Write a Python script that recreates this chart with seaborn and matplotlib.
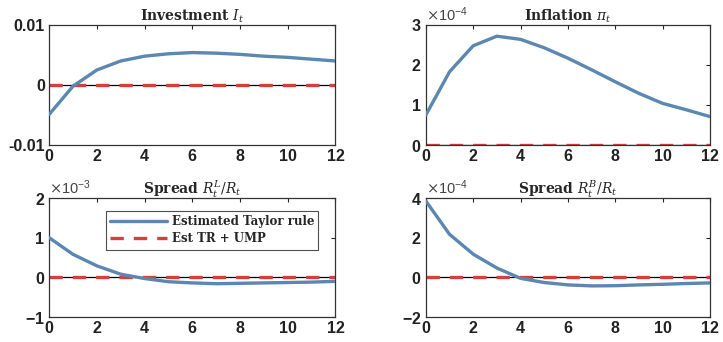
"""
Impulse responses: estimated Taylor rule vs. Taylor rule + UMP
"""
import numpy as np
import pandas as pd
import matplotlib
matplotlib.use("Agg")
import matplotlib.pyplot as plt
import seaborn as sns

# Data
horizon = list(range(13))

investment_tr = [-0.0049, -0.0002, 0.0025, 0.0040, 0.0048, 0.0052, 0.0054,
                 0.0053, 0.0051, 0.0048, 0.0046, 0.0043, 0.0040]
investment_ump = [0.0] * 13

inflation_tr = [0.75e-4, 1.83e-4, 2.48e-4, 2.72e-4, 2.64e-4, 2.43e-4, 2.17e-4,
                1.88e-4, 1.58e-4, 1.29e-4, 1.04e-4, 0.88e-4, 0.71e-4]
inflation_ump = [0.0] * 13

spread_l_tr = [1.0e-3, 0.58e-3, 0.29e-3, 0.08e-3, -0.03e-3, -0.11e-3, -0.14e-3,
               -0.16e-3, -0.15e-3, -0.14e-3, -0.13e-3, -0.12e-3, -0.10e-3]
spread_l_ump = [0.0] * 13

spread_b_tr = [3.85e-4, 2.17e-4, 1.17e-4, 0.47e-4, -0.05e-4, -0.26e-4, -0.38e-4,
               -0.43e-4, -0.42e-4, -0.38e-4, -0.35e-4, -0.31e-4, -0.28e-4]
spread_b_ump = [0.0] * 13

series_names = ["Estimated Taylor rule", "Est TR + UMP"]
titles = [r"Investment $I_t$", r"Inflation $\pi_t$",
          r"Spread $R^L_t/R_t$", r"Spread $R^B_t/R_t$"]
ylims = [(-0.01, 0.01), (0, 3e-4), (-1e-3, 2e-3), (-2e-4, 4e-4)]
yticks = [[-0.01, 0, 0.01], [0, 1e-4, 2e-4, 3e-4],
          [-1e-3, 0, 1e-3, 2e-3], [-2e-4, 0, 2e-4, 4e-4]]
use_sci = [False, True, True, True]

BLUE = "#5b87b2"
RED = "#d2413c"

sns.set_style("white")
plt.rcParams["font.family"] = ["Liberation Sans", "DejaVu Sans"]
plt.rcParams["mathtext.fontset"] = "dejavuserif"
plt.rcParams["axes.unicode_minus"] = False

fig = plt.figure(figsize=(7.23, 3.42), dpi=100)
positions = [
    [0.068, 0.576, 0.396, 0.351],
    [0.589, 0.576, 0.393, 0.351],
    [0.068, 0.073, 0.396, 0.348],
    [0.589, 0.073, 0.393, 0.348],
]

panels = [
    (investment_tr, investment_ump),
    (inflation_tr, inflation_ump),
    (spread_l_tr, spread_l_ump),
    (spread_b_tr, spread_b_ump),
]

for i, (tr, ump) in enumerate(panels):
    ax = fig.add_axes(positions[i])
    df = pd.DataFrame({
        "t": horizon * 2,
        "value": tr + ump,
        "series": [series_names[0]] * 13 + [series_names[1]] * 13,
    })
    ax.axhline(0, color="black", lw=0.9, zorder=1)
    sns.lineplot(data=df[df.series == series_names[0]], x="t", y="value",
                 color=BLUE, lw=2.4, ax=ax, label=series_names[0], zorder=3)
    sns.lineplot(data=df[df.series == series_names[1]], x="t", y="value",
                 color=RED, lw=2.4, ax=ax, label=series_names[1], zorder=2,
                 dashes=False, linestyle=(0, (4, 3)))
    ax.set_xlim(0, 12)
    ax.set_ylim(*ylims[i])
    ax.set_xticks([0, 2, 4, 6, 8, 10, 12])
    ax.set_yticks(yticks[i])
    if use_sci[i]:
        ax.ticklabel_format(axis="y", style="sci", scilimits=(0, 0), useMathText=True)
        ax.yaxis.get_offset_text().set_fontsize(10.5)
        ax.yaxis.get_offset_text().set_color("#444444")
    else:
        ax.set_yticklabels(["-0.01", "0", "0.01"])
    ax.set_xlabel("")
    ax.set_ylabel("")
    ax.set_title(titles[i], fontsize=10, fontweight="bold",
                 family=["DejaVu Serif"], pad=3)
    ax.tick_params(direction="in", top=True, right=True, length=3,
                   width=0.8, labelsize=11.5, pad=3)
    for lab in ax.get_xticklabels() + ax.get_yticklabels():
        lab.set_fontweight("bold")
        lab.set_color("#222222")
    for sp in ax.spines.values():
        sp.set_color("#333333")
        sp.set_linewidth(0.9)
    if i == 2:
        leg = ax.legend(loc="upper right", bbox_to_anchor=(0.94, 0.89),
                        frameon=True, fancybox=False,
                        prop={"family": "DejaVu Serif", "weight": "bold", "size": 8.5},
                        handlelength=4.8, borderpad=0.35, labelspacing=0.35,
                        handletextpad=0.4, borderaxespad=0)
        leg.get_frame().set_edgecolor("#222222")
        leg.get_frame().set_linewidth(0.8)
    else:
        ax.get_legend().remove()

fig.savefig("out.png", dpi=100)
